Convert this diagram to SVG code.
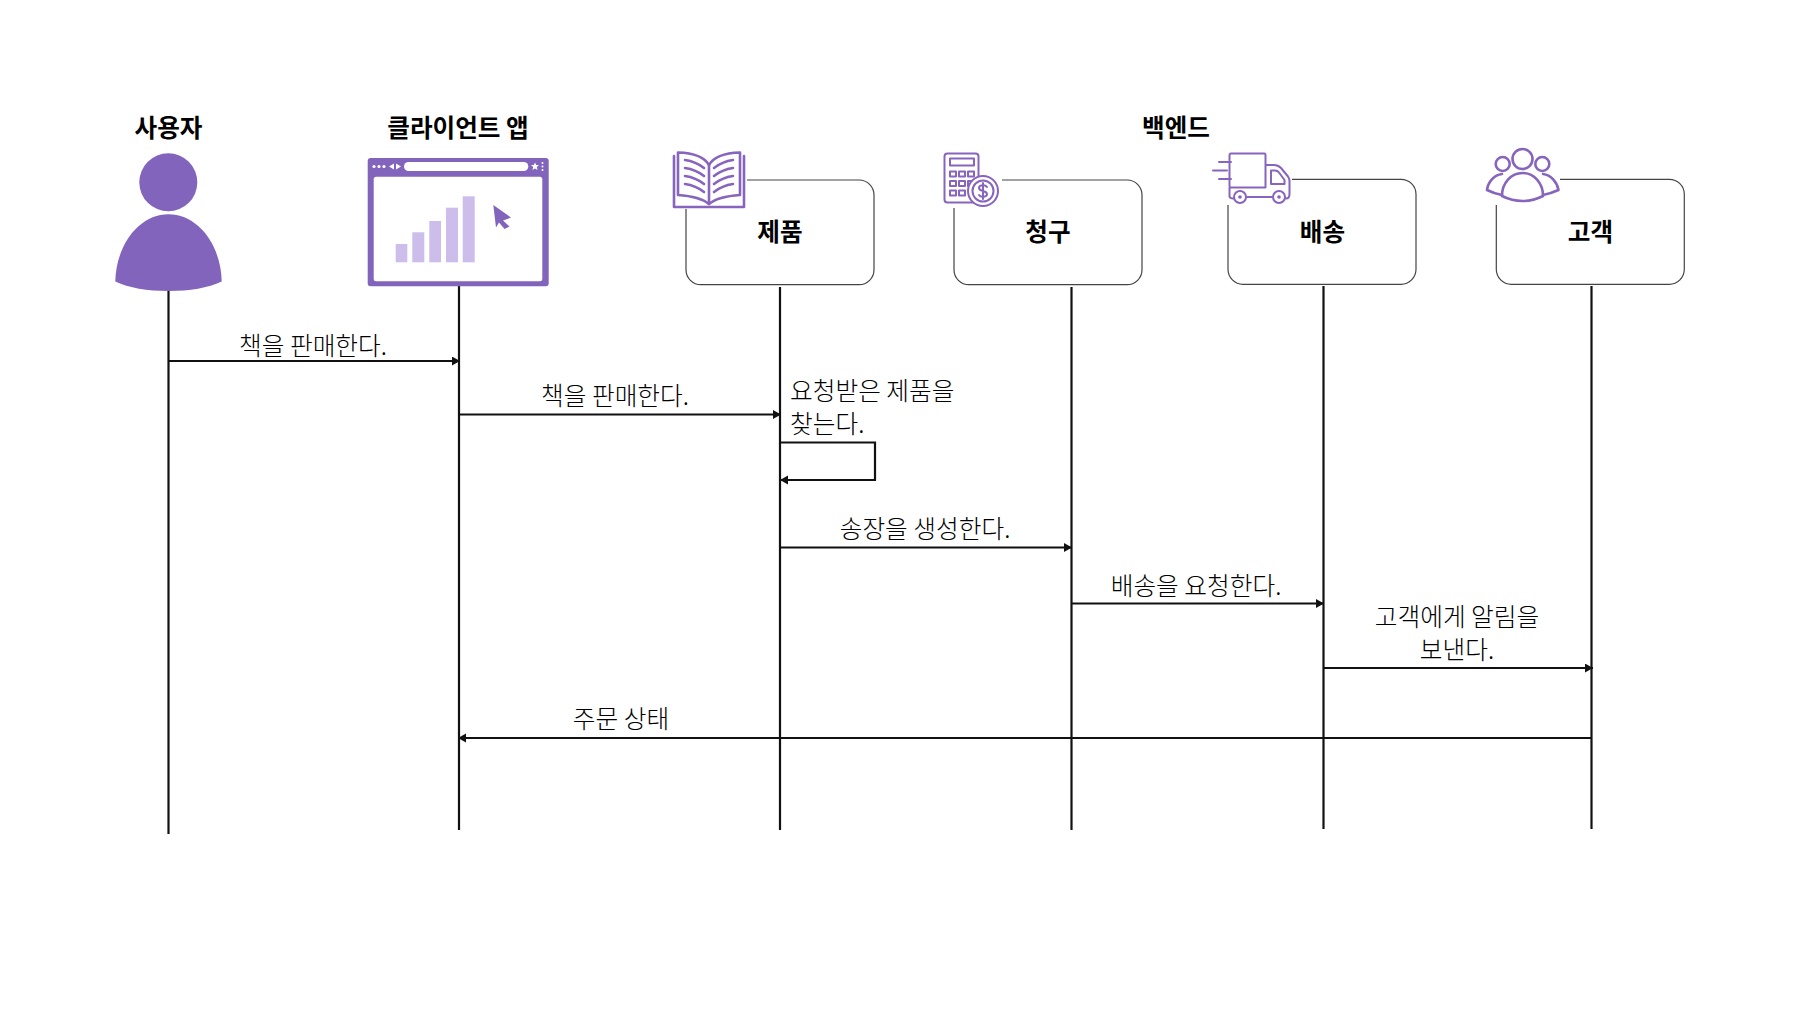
<svg xmlns="http://www.w3.org/2000/svg" width="1801" height="1013" viewBox="0 0 1801 1013">
<style>
text{font-family:"Noto Sans CJK KR","Noto Sans",sans-serif;fill:#000}
.t{font-size:24.6px;font-weight:700;text-anchor:middle}
.m{font-size:24.7px;font-weight:300;text-anchor:middle}
.s{text-anchor:start}
.l{fill:none;stroke:#111;stroke-width:2.200}
.box{fill:#fff;stroke:#444;stroke-width:1.200}
.ic{fill:#fff;stroke:#8764bd;stroke-width:2;stroke-linejoin:round;stroke-linecap:round}
.icn{fill:none;stroke:#8764bd;stroke-width:2;stroke-linecap:round;stroke-linejoin:round}
.th{stroke-width:2.600}
.p{fill:#8264bd}
.b{fill:#cdbdea}
.w{fill:#fff}
</style>
<defs>
<marker id="a" markerWidth="10" markerHeight="10" refX="8" refY="4.500" orient="auto" markerUnits="userSpaceOnUse"><path d="M0 0L8 4.500L0 9z" fill="#111"/></marker>
</defs>
<rect width="1801" height="1013" fill="#fff"/>
<g id="connectors">
<path class="l" d="M168.500 291V834"/>
<path class="l" d="M459 286V830"/>
<path class="l" d="M780 287V830"/>
<path class="l" d="M1071.500 287V830"/>
<path class="l" d="M1323.500 286V829"/>
<path class="l" d="M1591.500 286V829"/>
<path class="l" marker-end="url(#a)" d="M168.500 361H460"/>
<path class="l" marker-end="url(#a)" d="M459 414.500H781"/>
<path class="l" marker-end="url(#a)" d="M780 442.500H875V480H780"/>
<path class="l" marker-end="url(#a)" d="M780 547.500H1072"/>
<path class="l" marker-end="url(#a)" d="M1071.500 603.500H1324"/>
<path class="l" marker-end="url(#a)" d="M1323.500 668H1593"/>
<path class="l" marker-end="url(#a)" d="M1591.500 738H458"/>
</g>
<g id="label-sell-1"><text class="m" x="313" y="355">책을 판매한다.</text></g>
<g id="label-sell-2"><text class="m" x="615" y="405">책을 판매한다.</text></g>
<g id="label-find"><text class="m s" x="790" y="400">요청받은 제품을</text><text class="m s" x="790" y="433">찾는다.</text></g>
<g id="label-invoice"><text class="m" x="925" y="538">송장을 생성한다.</text></g>
<g id="label-ship"><text class="m" x="1196" y="595">배송을 요청한다.</text></g>
<g id="label-notify"><text class="m" x="1457" y="626">고객에게 알림을</text><text class="m" x="1457" y="659">보낸다.</text></g>
<g id="label-status"><text class="m" x="621" y="728">주문 상태</text></g>
<g id="backend-title"><text class="t" x="1176" y="136.500">백엔드</text></g>
<g id="user">
<text class="t" x="168.500" y="137">사용자</text>
<circle class="p" cx="168.300" cy="182.300" r="29"/>
<path class="p" d="M115.300 281.500C116 245 139 214.300 168.500 214.300S221 245 221.700 281.500C208 288 190 291 168.500 291S129 288 115.300 281.500Z"/>
</g>
<g id="client-app">
<text class="t" x="458" y="137">클라이언트 앱</text>
<rect class="p" x="367.700" y="158" width="181" height="128.300" rx="3"/>
<rect class="w" x="373.700" y="176.700" width="168.600" height="104.600" rx="2.500"/>
<rect class="w" x="404" y="162" width="124.300" height="9" rx="4.500"/>
<circle class="w" cx="374" cy="166.500" r="1.600"/><circle class="w" cx="379" cy="166.500" r="1.600"/><circle class="w" cx="384" cy="166.500" r="1.600"/>
<path class="w" d="M394 163.500L389 166.500L394 169.500ZM396 163.500L401 166.500L396 169.500Z"/>
<path class="w" d="M535 162.500L536.200 165H539L536.800 167L537.600 170L535 168.500L532.400 170L533.200 167L531 165H533.800Z"/>
<circle class="w" cx="542.500" cy="163" r="1"/><circle class="w" cx="542.500" cy="166.500" r="1"/><circle class="w" cx="542.500" cy="170" r="1"/>
<rect class="b" x="395.700" y="244" width="11.600" height="18.300"/>
<rect class="b" x="412.300" y="232.300" width="12" height="30"/>
<rect class="b" x="429.300" y="221" width="11.700" height="41.300"/>
<rect class="b" x="446" y="207.700" width="12" height="54.600"/>
<rect class="b" x="462.700" y="196.300" width="12" height="66"/>
<path class="p" d="M493.300 205L511 217.500L503 220.500L509.500 226.500L504.500 229L499 222.500L496 227.500Z"/>
</g>
<g id="product">
<rect class="box" x="686" y="180" width="188" height="104.700" rx="15"/>
<rect class="w" x="672" y="150" width="75" height="59"/>
<path class="ic th" d="M678 152.500C695 153 705 158 709 165C713 158 723 153 740 152.500V195C725 196 715 199 709 204C703 199 693 196 678 195Z"/>
<path class="icn th" d="M709 165V204M674 156V207H744V156"/>
<path class="icn th" d="M685 160C692 161 699 164 704 168M685 168C692 169 699 172 704 176M685 176C692 177 699 180 704 184M685 184C692 185 699 188 704 192M733 160C726 161 719 164 714 168M733 168C726 169 719 172 714 176M733 176C726 177 719 180 714 184M733 184C726 185 719 188 714 192"/>
<text class="t" x="780" y="241">제품</text>
</g>
<g id="billing">
<rect class="box" x="954" y="180" width="188" height="104.700" rx="15"/>
<rect class="w" x="940" y="150" width="62" height="58"/>
<rect class="ic" x="944.500" y="153.500" width="34" height="49" rx="3"/>
<rect class="icn" x="950" y="158.500" width="24" height="7"/>
<path class="icn" d="M950 171.500h6v5h-6zM959 171.500h6v5h-6zM968 171.500h6v5h-6zM950 181h6v5h-6zM959 181h6v5h-6zM968 181h6v5h-6zM950 190.500h6v5h-6zM959 190.500h6v5h-6z"/>
<circle class="ic" cx="983" cy="191" r="15"/>
<circle class="icn" cx="983" cy="191" r="10.500"/>
<path class="icn" d="M987 187C985 184 979 185 979 188C979 192 987 190 987 194C987 197 981 198 979 195M983 183V199"/>
<text class="t" x="1048" y="241">청구</text>
</g>
<g id="shipping">
<rect class="box" x="1228" y="179.300" width="188" height="105" rx="15"/>
<rect class="w" x="1210" y="150" width="82" height="55"/>
<path class="icn" d="M1229.500 186V155.500C1229.500 154.500 1230 153.500 1231 153.500H1264.500C1265.500 153.500 1265.500 154.500 1265.500 155.500V187.500H1229.500V196.500C1230 198 1231 198.500 1233 198.500M1265.500 165H1274C1277 165 1279 166 1281 168L1288 176.500C1289 178 1289.500 179 1289.500 181V194C1289.500 197 1288 198.500 1286 198.500M1272 197H1247"/>
<path class="icn" d="M1271 170.500H1275C1277 170.500 1278 171 1279 172.500L1284.500 180V184H1271ZM1219 162H1231M1213 170.500H1227M1219 179H1231"/>
<circle class="icn" cx="1240" cy="197" r="6"/><circle class="p" cx="1240" cy="197" r="1.800"/>
<circle class="icn" cx="1279" cy="197" r="6"/><circle class="p" cx="1279" cy="197" r="1.800"/>
<text class="t" x="1322.500" y="241">배송</text>
</g>
<g id="customer">
<rect class="box" x="1496.300" y="179.300" width="188" height="105" rx="15"/>
<rect class="w" x="1485" y="147" width="75" height="58"/>
<circle class="icn th" cx="1502.700" cy="164" r="7"/>
<circle class="icn th" cx="1542.300" cy="164" r="7"/>
<circle class="icn th" cx="1522.500" cy="159" r="10"/>
<path class="icn th" d="M1502 174C1494 175 1488 182 1487 190C1491 192 1496 194 1502 195M1543 174C1551 175 1557 182 1558.500 190C1554 192 1549 194 1543 195"/>
<path class="icn th" d="M1502 196C1502 183 1511 173 1522.500 173S1543 183 1543 196C1536 199.500 1530 201 1522.500 201S1509 199.500 1502 196Z"/>
<text class="t" x="1590.500" y="241">고객</text>
</g>
</svg>
